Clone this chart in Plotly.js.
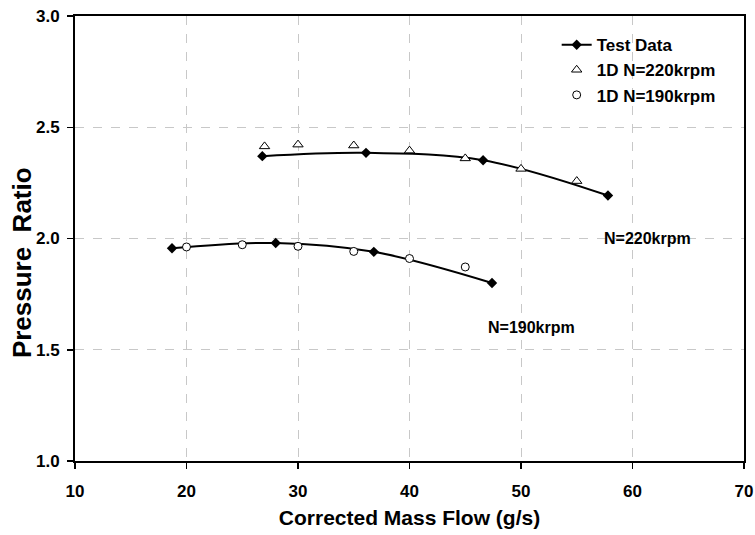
<!DOCTYPE html>
<html>
<head>
<meta charset="utf-8">
<script src="https://cdn.plot.ly/plotly-3.0.1.min.js"></script>
<style>html,body{margin:0;padding:0;background:#fff;}#chart{width:755px;height:535px;}</style>
</head>
<body>
<div id="chart"></div>
<script>
// Test data (diamonds with trend line)
const test220X = [26.8, 36.1, 46.6, 57.8];
const test220Y = [2.37, 2.385, 2.352, 2.193];
const test190X = [18.7, 28.0, 36.8, 47.4];
const test190Y = [1.956, 1.980, 1.940, 1.800];
// 1D predictions
const oneD220X = [27, 30, 35, 40, 45, 50, 55];
const oneD220Y = [2.414, 2.422, 2.418, 2.395, 2.36, 2.313, 2.258];
const oneD190X = [20, 25, 30, 35, 40, 45];
const oneD190Y = [1.962, 1.972, 1.965, 1.942, 1.910, 1.872];
// labels
const labels = ["N=220krpm", "N=190krpm"];
const labelX = [61.3, 50.9];
const labelY = [2.0, 1.60];
const xTicks = [10, 20, 30, 40, 50, 60, 70];
const yTicks = [1.0, 1.5, 2.0, 2.5, 3.0];

const font = "Liberation Sans, Arial, sans-serif";

const traces = [
  {x: test220X, y: test220Y, mode: "lines+markers", name: "Test Data",
   line: {color: "#000", width: 2, shape: "spline", smoothing: 1.0},
   marker: {symbol: "diamond", size: 8, color: "#000"}},
  {x: test190X, y: test190Y, mode: "lines+markers", name: "Test Data", showlegend: false,
   line: {color: "#000", width: 2, shape: "spline", smoothing: 1.0},
   marker: {symbol: "diamond", size: 8, color: "#000"}},
  {x: oneD220X, y: oneD220Y, mode: "markers", name: "1D N=220krpm",
   marker: {symbol: "triangle-up", size: 9, color: "#fff", line: {color: "#000", width: 1}}},
  {x: oneD190X, y: oneD190Y, mode: "markers", name: "1D N=190krpm",
   marker: {symbol: "circle", size: 8, color: "#fff", line: {color: "#000", width: 1}}}
];

const layout = {
  width: 755, height: 535,
  margin: {l: 75, r: 11, t: 16, b: 74},
  paper_bgcolor: "#fff", plot_bgcolor: "#fff",
  font: {family: font, color: "#000"},
  showlegend: true,
  legend: {x: 0.72, y: 0.975, xanchor: "left", yanchor: "top", bgcolor: "rgba(0,0,0,0)",
           font: {family: font, size: 17, weight: "bold"}, tracegroupgap: 0},
  xaxis: {
    range: [10, 70], tickvals: xTicks, ticktext: xTicks.map(v => String(v)),
    showline: true, linecolor: "#000", linewidth: 2, mirror: true,
    ticks: "outside", ticklen: 6, tickwidth: 1.5, tickcolor: "#000",
    showgrid: true, gridcolor: "#c8c8c8", griddash: "dash", gridwidth: 1,
    zeroline: false, ticklabelstandoff: 8,
    tickfont: {family: font, size: 17, weight: "bold"},
    title: {text: "Corrected Mass Flow (g/s)", font: {family: font, size: 21, weight: "bold"}, standoff: 10}
  },
  yaxis: {
    range: [1.0, 3.0], tickvals: yTicks, ticktext: yTicks.map(v => v.toFixed(1)),
    showline: true, linecolor: "#000", linewidth: 2, mirror: true,
    ticks: "outside", ticklen: 6, tickwidth: 1.5, tickcolor: "#000",
    showgrid: true, gridcolor: "#c8c8c8", griddash: "dash", gridwidth: 1,
    zeroline: false, ticklabelstandoff: 4,
    tickfont: {family: font, size: 17, weight: "bold"}
  },
  annotations: labels.map((t, i) => ({
    x: labelX[i], y: labelY[i], xref: "x", yref: "y", text: t, showarrow: false,
    font: {family: font, size: 16, weight: "bold"}
  })).concat([{
    x: -0.079, y: 0.445, xref: "paper", yref: "paper", xanchor: "center", yanchor: "middle",
    text: "Pressure  Ratio", textangle: -90, showarrow: false,
    font: {family: font, size: 26, weight: "bold"}
  }])
};

Plotly.newPlot("chart", traces, layout, {displayModeBar: false, staticPlot: true});
</script>
</body>
</html>
